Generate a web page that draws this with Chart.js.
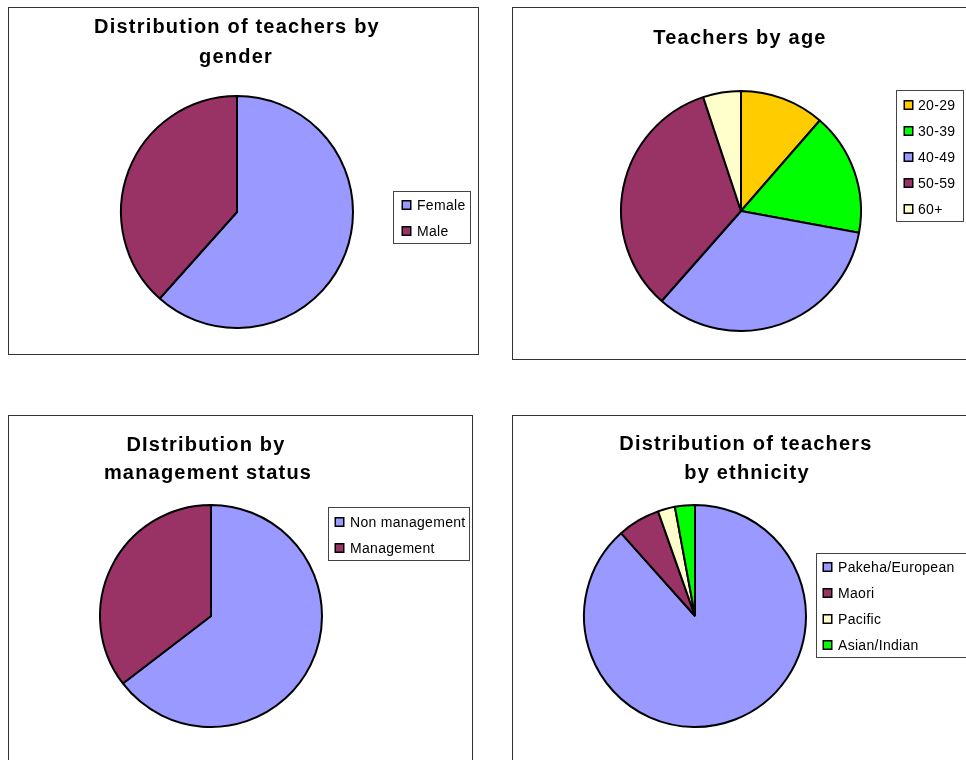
<!DOCTYPE html>
<html>
<head>
<meta charset="utf-8">
<script src="https://cdn.jsdelivr.net/npm/chart.js@4.4.1/dist/chart.umd.min.js"></script>
<style>
  html, body { margin: 0; padding: 0; background: #fff; overflow: hidden; }
  .panel { position: absolute; }
</style>
</head>
<body>
<div class="panel" id="p1"><canvas id="chartGender"></canvas></div>
<div class="panel" id="p2"><canvas id="chartAge"></canvas></div>
<div class="panel" id="p3"><canvas id="chartMgmt"></canvas></div>
<div class="panel" id="p4"><canvas id="chartEthnic"></canvas></div>
<script>
// chart data
const genderLabels = ['Female', 'Male'];
const genderValues = [61.6, 38.4];

const ageLabels = ['20-29', '30-39', '40-49', '50-59', '60+'];
const ageValues = [11.4, 16.5, 33.6, 33.4, 5.1];

const mgmtLabels = ['Non management', 'Management'];
const mgmtValues = [64.6, 35.4];

const ethnicLabels = ['Pakeha/European', 'Maori', 'Pacific', 'Asian/Indian'];
const ethnicValues = [88.4, 6.2, 2.5, 2.9];

// colours
const BLUE = '#9999FF', PLUM = '#993366', CREAM = '#FFFFCC', GREEN = '#00FF00', GOLD = '#FFCC00';

const FONT = '"Liberation Sans", Arial, sans-serif';

// draws the box, the title and the boxed legend (page coordinates)
const panelDeco = {
    id: 'panelDeco',
    afterDraw(chart, args, opts) {
        const ctx = chart.ctx;
        const b = opts.box;
        ctx.save();
        ctx.translate(-b.x, -b.y);

        ctx.strokeStyle = '#333';
        ctx.lineWidth = 1;
        ctx.strokeRect(b.x + 0.5, b.y + 0.5, b.w - 1, b.h - 1);

        ctx.fillStyle = '#000';
        ctx.font = '700 20px ' + FONT;
        ctx.letterSpacing = '1.2px';
        ctx.textAlign = 'center';
        ctx.textBaseline = 'alphabetic';
        opts.title.forEach((t, i) => ctx.fillText(t, opts.titleX[i], opts.titleY[i]));

        const lg = opts.legend;
        ctx.strokeStyle = '#444';
        ctx.lineWidth = 1;
        ctx.strokeRect(lg.x + 0.5, lg.y + 0.5, lg.w, lg.h);
        ctx.font = '14px ' + FONT;
        ctx.letterSpacing = '0.3px';
        ctx.textAlign = 'left';
        ctx.textBaseline = 'middle';
        const ds = chart.data.datasets[0];
        chart.data.labels.forEach((lab, i) => {
            const y = lg.rowY + i * 26;
            ctx.fillStyle = ds.backgroundColor[i];
            ctx.fillRect(lg.markX, y - 4.5, 9, 9);
            ctx.strokeStyle = '#000';
            ctx.lineWidth = 1.5;
            ctx.strokeRect(lg.markX + 0.25, y - 4.25, 8.5, 8.5);
            ctx.fillStyle = '#000';
            ctx.fillText(lab, lg.textX, y + 1);
        });
        ctx.restore();
    }
};

function makePie(canvasId, panelId, box, cx, cy, r, labels, values, colors, deco) {
    const wrap = document.getElementById(panelId);
    wrap.style.left = box.x + 'px';
    wrap.style.top = box.y + 'px';
    wrap.style.width = box.w + 'px';
    wrap.style.height = box.h + 'px';
    // chart area is a square around the pie centre (borderWidth 2 eats 1px of radius)
    const pad = {
        left: cx - r - 1 - box.x,
        top: cy - r - 1 - box.y,
        right: box.w - (cx + r + 1 - box.x),
        bottom: box.h - (cy + r + 1 - box.y)
    };
    deco.box = box;
    new Chart(document.getElementById(canvasId), {
        type: 'pie',
        data: {
            labels: labels,
            datasets: [{
                data: values,
                backgroundColor: colors,
                borderColor: '#000',
                borderWidth: 2
            }]
        },
        options: {
            responsive: true,
            maintainAspectRatio: false,
            animation: false,
            layout: { padding: pad },
            plugins: {
                legend: { display: false },
                tooltip: { enabled: false },
                panelDeco: deco
            }
        },
        plugins: [panelDeco]
    });
}

makePie('chartGender', 'p1', { x: 8, y: 7, w: 471, h: 348 }, 237, 212, 116,
    genderLabels, genderValues, [BLUE, PLUM], {
        title: ['Distribution of teachers by', 'gender'],
        titleX: [237, 236], titleY: [33, 63],
        legend: { x: 393, y: 191, w: 77, h: 52, rowY: 205, markX: 402, textX: 417 }
    });

makePie('chartAge', 'p2', { x: 512, y: 7, w: 470, h: 353 }, 741, 211, 120,
    ageLabels, ageValues, [GOLD, GREEN, BLUE, PLUM, CREAM], {
        title: ['Teachers by age'],
        titleX: [740], titleY: [44],
        legend: { x: 896, y: 90, w: 67, h: 131, rowY: 105, markX: 904, textX: 918 }
    });

makePie('chartMgmt', 'p3', { x: 8, y: 415, w: 465, h: 360 }, 211, 616, 111,
    mgmtLabels, mgmtValues, [BLUE, PLUM], {
        title: ['DIstribution by', 'management status'],
        titleX: [206, 208], titleY: [451, 479],
        legend: { x: 328, y: 507, w: 141, h: 53, rowY: 522, markX: 335, textX: 350 }
    });

makePie('chartEthnic', 'p4', { x: 512, y: 415, w: 470, h: 360 }, 695, 616, 111,
    ethnicLabels, ethnicValues, [BLUE, PLUM, CREAM, GREEN], {
        title: ['Distribution of teachers', 'by ethnicity'],
        titleX: [746, 747], titleY: [450, 479],
        legend: { x: 816, y: 553, w: 160, h: 104, rowY: 567, markX: 823, textX: 838 }
    });
</script>
</body>
</html>
